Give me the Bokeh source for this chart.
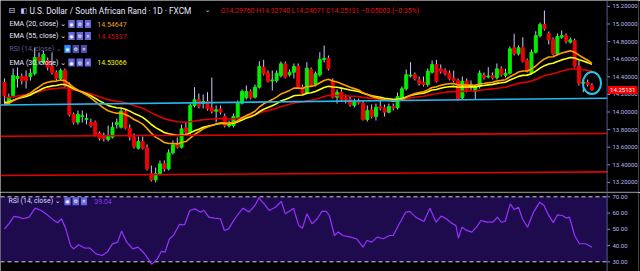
from bokeh.plotting import figure
from bokeh.layouts import column
from bokeh.models import (ColumnDataSource, Range1d, FixedTicker, PrintfTickFormatter,
                          Label, Span, BoxAnnotation)
from bokeh.embed import file_html
from bokeh.resources import INLINE

# ---------------- data (USD/ZAR daily) ----------------
opens = [14.335,14.111,14.187,14.381,14.403,14.403,14.403,14.437,14.619,14.562,
         14.585,14.517,14.449,14.381,14.472,14.301,13.972,13.884,13.949,13.915,
         13.881,13.884,13.756,13.733,13.687,13.714,13.858,13.827,14.009,13.816,
         13.714,13.589,13.665,13.593,13.298,13.229,13.298,13.411,13.354,13.536,
         13.627,13.600,13.820,13.770,14.074,14.139,14.096,14.119,14.048,14.009,
         14.036,13.949,13.841,13.847,13.934,14.100,14.161,14.233,14.168,14.282,
         14.509,14.441,14.352,14.358,14.415,14.548,14.423,14.452,14.517,14.282,
         14.214,14.483,14.312,14.423,14.597,14.611,14.350,14.168,14.225,14.161,
         14.139,14.074,14.119,14.100,13.915,14.025,13.949,14.062,14.048,13.998,
         14.062,14.048,14.161,14.264,14.409,14.426,14.366,14.339,14.312,14.452,
         14.540,14.491,14.472,14.441,14.384,14.358,14.161,14.350,14.295,14.236,
         14.290,14.415,14.398,14.415,14.389,14.491,14.415,14.441,14.730,14.661,
         14.730,14.585,14.441,14.679,14.869,14.994,14.889,14.824,14.661,14.850,
         14.869,14.793,14.812,14.520,14.327,14.339,14.298]
highs = [14.381,14.210,14.494,14.506,14.437,14.472,14.494,14.733,14.676,14.699,
         14.619,14.676,14.472,14.494,14.494,14.335,13.994,14.017,14.017,13.983,
         13.926,13.903,13.778,13.767,13.847,13.881,13.926,14.040,14.028,13.858,
         13.756,13.722,13.722,13.631,13.392,13.369,13.449,13.449,13.574,13.676,
         13.710,13.858,13.881,14.096,14.282,14.210,14.199,14.225,14.392,14.074,
         14.074,13.983,13.903,13.983,14.131,14.256,14.301,14.256,14.312,14.577,
         14.593,14.472,14.472,14.472,14.574,14.574,14.483,14.551,14.551,14.312,
         14.566,14.506,14.460,14.679,14.756,14.642,14.381,14.256,14.267,14.199,
         14.176,14.153,14.153,14.131,14.074,14.085,14.096,14.131,14.085,14.096,
         14.096,14.222,14.290,14.483,14.566,14.449,14.403,14.403,14.494,14.585,
         14.593,14.540,14.494,14.472,14.472,14.381,14.403,14.381,14.358,14.312,
         14.472,14.449,14.509,14.449,14.551,14.517,14.491,14.744,14.889,14.756,
         14.850,14.608,14.710,14.918,15.017,15.153,14.915,14.847,14.892,14.926,
         14.892,14.847,14.835,14.585,14.358,14.369,14.327]
lows = [14.085,14.085,14.165,14.278,14.312,14.267,14.358,14.415,14.540,14.540,
        14.472,14.426,14.358,14.358,14.278,13.949,13.858,13.858,13.881,13.858,
        13.824,13.722,13.676,13.665,13.665,13.699,13.812,13.812,13.801,13.676,
        13.585,13.574,13.574,13.335,13.210,13.199,13.278,13.324,13.335,13.517,
        13.585,13.585,13.744,13.744,14.051,14.040,14.040,14.017,13.983,13.881,
        13.972,13.824,13.824,13.824,13.915,14.085,14.142,14.142,14.153,14.267,
        14.415,14.335,14.244,14.335,14.392,14.381,14.403,14.381,14.267,14.199,
        14.199,14.290,14.290,14.403,14.562,14.472,14.153,14.096,14.119,14.096,
        14.062,14.051,14.085,13.903,13.892,13.926,13.903,14.017,13.949,13.983,
        14.017,14.028,14.142,14.244,14.392,14.358,14.301,14.290,14.290,14.437,
        14.335,14.437,14.415,14.358,14.335,14.131,14.142,14.222,14.244,14.145,
        14.267,14.369,14.381,14.369,14.369,14.403,14.392,14.426,14.642,14.642,
        14.562,14.449,14.426,14.665,14.847,14.926,14.767,14.642,14.642,14.832,
        14.778,14.778,14.506,14.301,14.225,14.290,14.241]
closes = [14.187,14.168,14.415,14.403,14.358,14.358,14.437,14.619,14.585,14.653,
          14.506,14.449,14.381,14.472,14.301,13.972,13.884,13.972,13.960,13.926,
          13.847,13.744,13.699,13.699,13.733,13.827,13.881,14.009,13.816,13.714,
          13.608,13.665,13.589,13.354,13.229,13.298,13.411,13.354,13.536,13.627,
          13.600,13.809,13.770,14.074,14.139,14.066,14.119,14.036,14.009,14.025,
          13.998,13.847,13.858,13.949,14.100,14.233,14.233,14.161,14.282,14.517,
          14.434,14.350,14.364,14.441,14.548,14.395,14.452,14.517,14.282,14.214,
          14.498,14.309,14.434,14.597,14.611,14.491,14.168,14.225,14.139,14.119,
          14.085,14.119,14.102,13.915,14.017,13.949,14.054,14.045,13.998,14.062,
          14.045,14.176,14.264,14.423,14.420,14.377,14.327,14.312,14.464,14.540,
          14.350,14.464,14.434,14.377,14.358,14.145,14.350,14.244,14.307,14.290,
          14.441,14.392,14.409,14.389,14.491,14.426,14.441,14.718,14.661,14.730,
          14.577,14.464,14.679,14.869,14.994,14.945,14.824,14.661,14.858,14.869,
          14.804,14.820,14.520,14.327,14.339,14.312,14.251]

# EMA values at the first visible candle
ema_seeds = {20: 14.090, 30: 14.110, 55: 14.165}

# RSI(14): candle position, value
rsi_t = [0,1,2.2,3.3,4.3,5.7,7.1,8.5,9.9,11.3,12.3,13.2,14.2,15.3,16,17.2,18.4,19.8,21.2,22.6,
         23.8,25,26.2,27.1,28.3,29.7,30.9,32.1,33,34.1,35.4,36.3,37.2,38.2,39.1,40.5,41.7,42.9,44.1,45.3,
         46.2,47.3,48.6,50,50.9,51.9,53.3,55.2,56.6,58,58.9,60.1,61.3,62.7,64.1,65,66.2,66.9,68.1,69,
         70,71.2,72.4,73.5,74.5,75.2,76.4,77.3,78.3,80.1,81.5,83,83.9,85,86.3,87.7,89.1,90,91.4,92.9,
         93.8,95.2,97.1,98.5,99.9,101.1,102.3,103.5,104.5,105.1,105.9,107,108.2,109.3,110.3,111.7,113.1,114.1,115,115.9,
         117.1,118,119,119.9,121.1,122.5,123.9,124.9,125.8,127.1,128,129.1,130.1,130.8,132,133.1,134.6,136]
rsi_v = [50.3,53.4,57.9,57.5,56.5,57.5,63,61.6,58.9,55.8,54,56.5,50.3,40,38,40.5,38.6,38.4,34.9,33.9,
         36,41,42.1,48.9,42.1,38,39,36,32.9,28.4,31.8,36.4,36,44.2,46.2,53,52.8,61.6,62.6,60.6,
         61.6,57.5,56.9,56.5,49.3,50.3,56.5,63,60.6,64.7,69.4,65.7,61.6,63.6,67.1,59.5,61.6,63,52.4,50.7,
         59.5,53.4,56.5,61,61,58.5,46.2,48.3,46.2,45.2,44.2,39,43.1,42.1,45.2,44.2,46.2,46.2,53.4,60.6,
         61,57.5,54.8,63,54.4,58.1,56.5,53.8,52.4,44.6,51.3,49.3,48.3,51.3,55.4,54.4,54.4,57.5,54.4,54.8,
         65.7,62.2,63.6,56.5,51.3,60.6,66.7,64.7,59.5,54,58.9,58.5,56.9,57.5,46.2,41.1,41.1,39]

# hand-drawn lines on the chart: start/end (candle position, price)
drawn_x0 = [-0.9, -0.9, -0.9]
drawn_y0 = [14.080, 13.725, 13.278]
drawn_x1 = [139.6, 139.6, 139.6]
drawn_y1 = [14.157, 13.756, 13.320]
drawn_colors = ["#22b8f0", "#e80000", "#e80000"]
# circle marking the last candles: centre candle, price, size
mark_x, mark_y, mark_w, mark_h = 136, 14.329, 4.2, 0.25

price_ticks = [13.2, 13.4, 13.6, 13.8, 14.0, 14.2, 14.4, 14.6, 14.8, 15.0, 15.2]
rsi_ticks = [30, 40, 50, 60, 70]
rsi_bands = [70, 30]

title_text = "U.S. Dollar / South African Rand · 1D · FXCM"
ohlc_text = "O14.29760 H14.32740 L14.24071 C14.25131 −0.05003 (−0.35%)"
last_price_text = "14.25131"
ema_legend = [("EMA (20, close)", "14.54647", "#f0a020"),
              ("EMA (55, close)", "14.45337", "#d01010"),
              ("RSI (14, close)", "", None),
              ("EMA (30, close)", "14.53066", "#f5f500")]
rsi_value_text = "39.04"

# ---------------- layout constants ----------------
W, MH, RH = 640, 192, 79
AXPX = 608.5                    # x pixel of the price-scale line
PX = 4.333                      # px per candle
X0 = -4 / PX
X1 = X0 + W / PX
PY = 88.0                       # px per price unit
YTOP = 15.267
YBOT = YTOP - MH / PY
RPY = 1.625
RTOP = 72.65
RBOT = RTOP - RH / RPY

FONT = "Roboto, DejaVu Sans"
AXC = "#b8b8f4"
AXLINE = "#5a5a8c"
TICKC = "#8a8acc"
WICK = "#c8c8ff"
UP, DN = "#00f000", "#f00000"

def px2x(px):
    return X0 + px / PX

def py2y(py):
    return YTOP - py / PY

def rpy2y(py):
    return RTOP - (py - MH) / RPY

def ema(vals, period, seed):
    a = 2.0 / (period + 1)
    out = [seed]
    for v in vals[1:]:
        out.append(out[-1] + a * (v - out[-1]))
    return out

n = min(len(opens), len(highs), len(lows), len(closes))
idx = list(range(n))
src = ColumnDataSource(dict(
    x=idx, h=highs[:n], l=lows[:n],
    top=[max(o, c) for o, c in zip(opens[:n], closes[:n])],
    bottom=[min(o, c) for o, c in zip(opens[:n], closes[:n])],
    color=[UP if c >= o else DN for o, c in zip(opens[:n], closes[:n])],
))

def style_axis(fig, fmt, ticks):
    ax = fig.yaxis[0]
    ax.ticker = FixedTicker(ticks=ticks)
    ax.formatter = PrintfTickFormatter(format=fmt)
    ax.major_label_text_font_size = "6px"
    ax.major_label_text_font = FONT
    ax.major_label_text_color = AXC
    ax.major_tick_out = 0
    ax.major_tick_in = 0
    ax.minor_tick_out = 0
    ax.minor_tick_in = 0
    ax.major_label_standoff = -26      # labels sit to the right of the scale line
    ax.axis_line_color = None
    ax.major_tick_line_color = None
    # scale line and its small tick marks
    fig.add_layout(Span(location=px2x(AXPX), dimension="height", line_color=AXLINE, line_width=1))
    fig.segment(x0=[px2x(AXPX)] * len(ticks), y0=ticks, x1=[px2x(AXPX + 3)] * len(ticks), y1=ticks,
                line_color=TICKC, line_width=1)

def make_fig(h, yr):
    f = figure(width=W, height=h, x_range=Range1d(X0, X1), y_range=yr,
               toolbar_location=None, output_backend="svg", x_axis_location=None, y_axis_location="right",
               min_border_left=0, min_border_top=0, min_border_bottom=0, min_border_right=0,
               background_fill_color="#000000", border_fill_color="#000000", outline_line_color=None)
    f.grid.visible = False
    return f

# ---------------- main panel ----------------
p = make_fig(MH, Range1d(YBOT, YTOP))
style_axis(p, "%.5f", price_ticks)

p.segment(x0="x", y0="h", x1="x", y1="l", source=src, line_color=WICK, line_width=1)
p.vbar(x="x", width=0.68, top="top", bottom="bottom", fill_color="color", line_color="color", source=src)

p.line(idx, ema(closes[:n], 55, ema_seeds[55]), line_color="#e00000", line_width=1.6)
p.line(idx, ema(closes[:n], 30, ema_seeds[30]), line_color="#ffff10", line_width=1.6)
p.line(idx, ema(closes[:n], 20, ema_seeds[20]), line_color="#ffa000", line_width=1.6)

p.segment(x0=drawn_x0, y0=drawn_y0, x1=drawn_x1, y1=drawn_y1, line_color=drawn_colors, line_width=1.6)
p.ellipse(x=[mark_x], y=[mark_y], width=mark_w, height=mark_h, fill_color=None,
          line_color="#22c8f0", line_width=2)

p.add_layout(Span(location=py2y(191.5), dimension="width", line_color="#3a3a5c", line_width=1))

def lab(fig, px, y, text, size, color, style="normal", bg=None, pad=0):
    kw = {}
    if bg is not None:
        kw = dict(background_fill_color=bg, padding=pad)
    fig.add_layout(Label(x=px2x(px), y=y, text=text, text_font=FONT, text_font_size=size,
                         text_color=color, text_baseline="middle", text_align="left",
                         text_font_style=style, level="overlay", **kw))

# header
lab(p, 8, py2y(10), "⊟", "8px", "#d8d8ff")
lab(p, 20, py2y(10), "◧", "7px", "#c8c8ff")
lab(p, 29, py2y(10), title_text, "8.3px", "#e8e8ff")
lab(p, 205, py2y(9), "⌄", "7px", "#c8c8ff")
lab(p, 221, py2y(10), ohlc_text, "6.9px", "#e01010")

rows_y = [23.5, 35.5, 48.5, 62]
for (name, val, col), ry in zip(ema_legend, rows_y):
    is_rsi = val == ""
    tcol = "#5a5a9a" if is_rsi else "#e8e8ff"
    lab(p, 9, py2y(ry), name + " ⌄", "7px", tcol)
    bx = 64 if is_rsi else 68
    for k, g in enumerate(["◉", "⚙", "✕"]):
        bgc = "#2a86ff" if (is_rsi and k == 0) else ("#4a4aa8" if is_rsi else "#6464dc")
        lab(p, bx + 8.3 * k, py2y(ry), g, "5px", "#ffffff", bg=bgc, pad=1)
    if not is_rsi:
        lab(p, 97, py2y(ry), val, "7px", col)

# last price tag on the price scale
lab(p, AXPX + 1, closes[n - 1], last_price_text, "6px", "#ffffff", bg="#f00000", pad=2)

# ---------------- RSI panel ----------------
r = make_fig(RH, Range1d(RBOT, RTOP))
style_axis(r, "%.2f", rsi_ticks)
r.add_layout(BoxAnnotation(bottom=30, top=70, left=X0, right=px2x(AXPX), fill_color="#1d0b4e",
                           fill_alpha=1.0, line_color=None, level="underlay"))
r.segment(x0=[X0] * len(rsi_bands), y0=rsi_bands, x1=[px2x(AXPX)] * len(rsi_bands), y1=rsi_bands,
          line_color="#d0d0e8", line_width=1, line_dash="4 3")
r.line(rsi_t, rsi_v, line_color="#9b30ff", line_width=1.2)

r.add_layout(Label(x=px2x(8), y=rpy2y(200.7), text="RSI (14, close) ⌄", text_font=FONT, text_font_size="7px",
                   text_color="#d8d8ff", text_baseline="middle", level="overlay"))
for k, g in enumerate(["◉", "⚙", "✕"]):
    r.add_layout(Label(x=px2x(64 + 8.3 * k), y=rpy2y(200.7), text=g, text_font=FONT, text_font_size="5px",
                       text_color="#ffffff", text_baseline="middle", background_fill_color="#6464dc",
                       padding=1, level="overlay"))
r.add_layout(Label(x=px2x(94), y=rpy2y(200.7), text=rsi_value_text, text_font=FONT, text_font_size="7px",
                   text_color="#8a3cf0", text_baseline="middle", level="overlay"))

layout = column(p, r, spacing=0)
open("out.html", "w").write(file_html(layout, INLINE))
